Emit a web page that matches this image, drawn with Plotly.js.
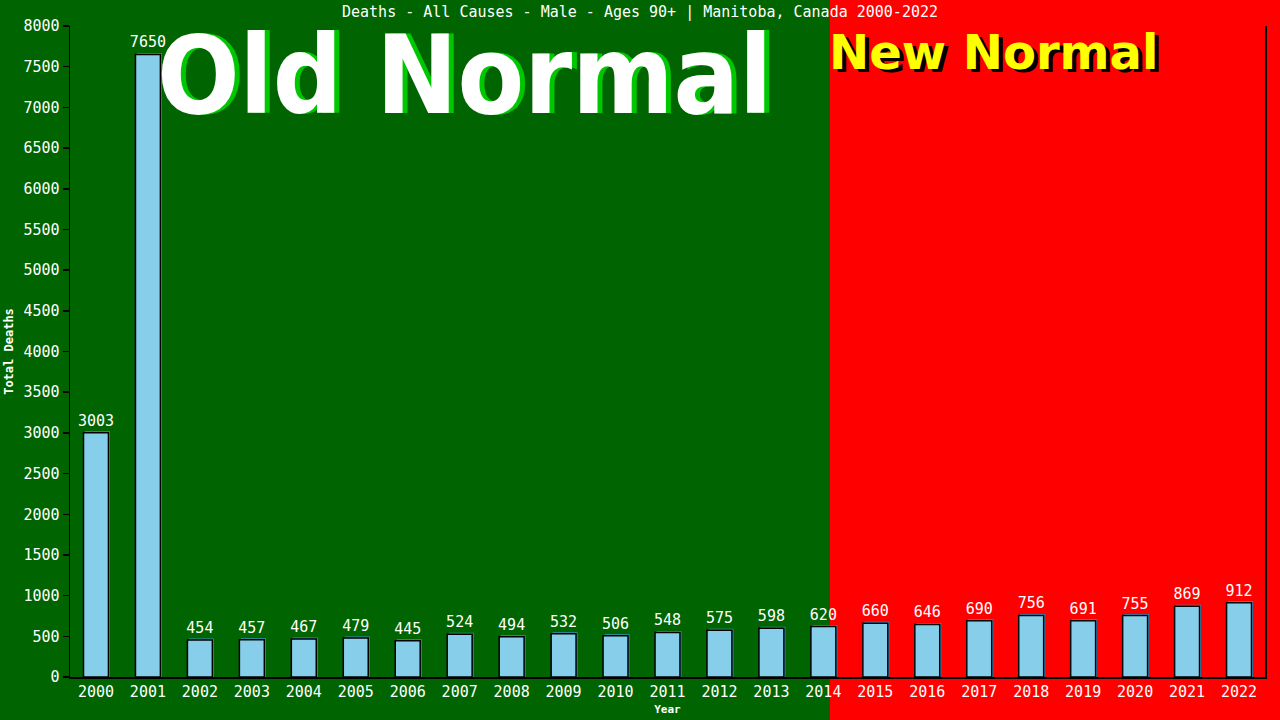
<!DOCTYPE html>
<html>
<head>
<meta charset="utf-8">
<script src="https://cdn.plot.ly/plotly-3.0.1.min.js"></script>
<style>html,body{margin:0;padding:0;background:#ff0000;}#chart{width:1280px;height:720px;}</style>
</head>
<body>
<div id="chart"></div>
<script>
const years = ["2000","2001","2002","2003","2004","2005","2006","2007","2008","2009","2010","2011","2012","2013","2014","2015","2016","2017","2018","2019","2020","2021","2022"];
const deaths = [3003,7650,454,457,467,479,445,524,494,532,506,548,575,598,620,660,646,690,756,691,755,869,912];
const yTicks = [0,500,1000,1500,2000,2500,3000,3500,4000,4500,5000,5500,6000,6500,7000,7500,8000];

const mono = "DejaVu Sans Mono, Liberation Mono, monospace";
const L = 70, R = 1265, T = 26, B = 677;
const pw = R - L, ph = B - T;
const px2x = p => (p - L) / pw;
const px2y = p => (B - p) / ph;

const shadow = {
  type: 'bar', x: years, y: deaths.map(v => v + 1.5 * 8000 / ph),
  width: 0.48, offset: -0.24 + 1.5 / (pw / years.length),
  marker: {color: '#3d8fc4', line: {width: 0}},
  hoverinfo: 'skip', showlegend: false
};
const bars = {
  type: 'bar', x: years, y: deaths, width: 0.48, offset: -0.24,
  marker: {color: '#87ceeb', line: {color: '#000000', width: 1.5}},
  text: deaths.map(String), textposition: 'outside', cliponaxis: false, constraintext: 'none',
  textfont: {family: mono, size: 15, color: '#ffffff'},
  showlegend: false
};

const bigFont = "DejaVu Sans Condensed, DejaVu Sans, sans-serif";
const layout = {
  width: 1280, height: 720,
  margin: {l: L, r: 1280 - R, t: T, b: 720 - B, pad: 0},
  paper_bgcolor: '#ff0000', plot_bgcolor: 'rgba(0,0,0,0)',
  barmode: 'overlay', bargap: 0.5,
  title: {text: 'Deaths - All Causes - Male - Ages 90+ | Manitoba, Canada 2000-2022',
    font: {family: mono, size: 15, color: '#ffffff'},
    x: 0.5, xanchor: 'center', xref: 'container', y: 1 - 12 / 720, yanchor: 'middle'},
  xaxis: {type: 'category', showgrid: false, zeroline: false,
    showline: true, linecolor: '#000000', linewidth: 1.5, ticks: '',
    tickfont: {family: mono, size: 15, color: '#ffffff'},
    title: {text: '<b>Year</b>', font: {family: mono, size: 11, color: '#ffffff'}, standoff: 6}},
  yaxis: {range: [0, 8000], tickvals: yTicks, ticktext: yTicks.map(String),
    showgrid: false, zeroline: false, showline: true, linecolor: '#000000', linewidth: 1.5,
    mirror: true, ticks: 'outside', ticklen: 6, tickcolor: '#000000', tickwidth: 1.5,
    tickfont: {family: mono, size: 15, color: '#ffffff'},
    title: {text: '<b>Total Deaths</b>', font: {family: mono, size: 12, color: '#ffffff'}, standoff: 7}},
  shapes: [
    {type: 'rect', xref: 'paper', yref: 'paper', x0: px2x(-5), x1: px2x(830), y0: px2y(725), y1: px2y(-5),
     fillcolor: '#006400', line: {width: 0}, layer: 'below'}
  ],
  annotations: [
    {xref: 'paper', yref: 'paper', x: px2x(469), y: px2y(76), xanchor: 'center', yanchor: 'middle',
     text: '<b>Old Normal</b>', showarrow: false, font: {family: bigFont, size: 108, color: '#00c800'}},
    {xref: 'paper', yref: 'paper', x: px2x(465), y: px2y(75), xanchor: 'center', yanchor: 'middle',
     text: '<b>Old Normal</b>', showarrow: false, font: {family: bigFont, size: 108, color: '#ffffff'}},
    {xref: 'paper', yref: 'paper', x: px2x(997), y: px2y(55), xanchor: 'center', yanchor: 'middle',
     text: '<b>New Normal</b>', showarrow: false, font: {family: "DejaVu Sans, sans-serif", size: 48, color: '#000000'}},
    {xref: 'paper', yref: 'paper', x: px2x(994), y: px2y(52), xanchor: 'center', yanchor: 'middle',
     text: '<b>New Normal</b>', showarrow: false, font: {family: "DejaVu Sans, sans-serif", size: 48, color: '#ffff00'}}
  ]
};
Plotly.newPlot('chart', [shadow, bars], layout, {displayModeBar: false, staticPlot: true});
</script>
</body>
</html>
